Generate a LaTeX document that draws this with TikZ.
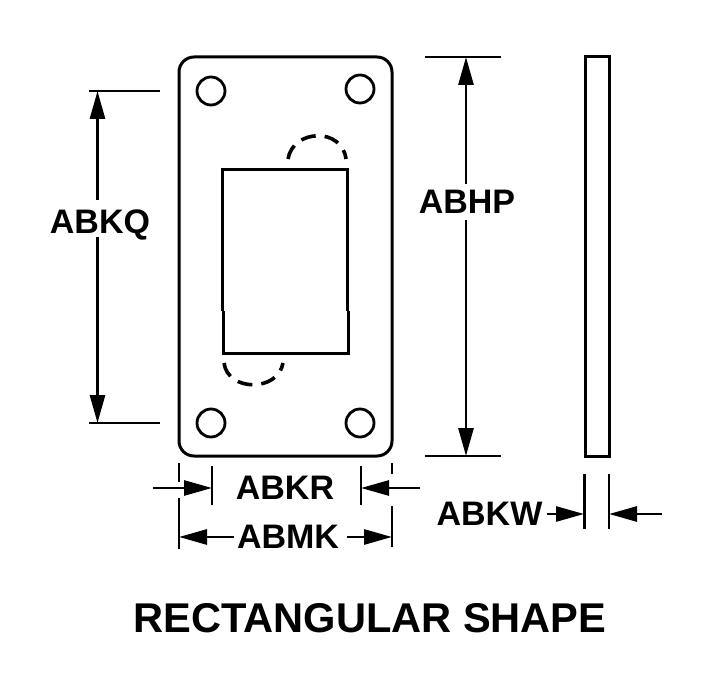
\documentclass[tikz,border=0pt]{standalone}
\usepackage{fontspec}
\setmainfont{Liberation Sans}
\usetikzlibrary{arrows.meta}
\tikzset{
  dim/.style={line width=2.8pt},
  outline/.style={line width=3pt},
  hidden/.style={line width=3.6pt, dash pattern=on 15pt off 9pt},
  label/.style={font=\fontsize{34}{34}\bfseries\selectfont, inner sep=0pt, text depth=0pt},
}
\begin{document}
\begin{tikzpicture}[x=1pt, y=-1pt, >={Stealth[inset=0pt,length=28pt,width=15pt]}, line join=miter]
    \useasboundingbox (0,0) rectangle (720,690);

    % plate and holes
    \draw [outline, rounded corners=15pt] (179,57) rectangle (392,456);
    \foreach \cx/\cy in {211/91, 360/89, 211/423, 360/423}{
        \draw [line width=2.8pt] (\cx,\cy) circle (14);
    }

    % window
    \draw [outline] (222,311) -- (222,169) -- (347,169) -- (347,311);
    \draw [outline] (223,311) -- (223,353) -- (348.5,353) -- (348.5,311);
    \draw [hidden] (288,159) .. controls (293,129) and (342,127) .. (346,159);
    \draw [hidden] (224,363) .. controls (228,392) and (278,392) .. (283,363);

    % side view
    \draw [outline] (585,57) rectangle (609,456);

    % labels
    \node [label] (abkq) at (100,222) {ABKQ};
    \node [label] (abhp) at (467,202) {ABHP};
    \node [label] (abkr) at (285,488) {ABKR};
    \node [label] (abmk) at (288,537) {ABMK};
    \node [label] (abkw) at (489.5,514) {ABKW};
    \node [font=\fontsize{41.6}{42}\bfseries\selectfont, inner sep=0pt] (title) at (370,618) {RECTANGULAR SHAPE};

    % left dimension
    \draw [dim] (89,91) -- (160,91);
    \draw [dim] (89,423) -- (160,423);
    \draw [dim,->] (97.5,200) -- (97.5,91);
    \draw [dim,->] (97.5,237) -- (97.5,423);

    % right dimension
    \draw [dim] (425,57) -- (501,57);
    \draw [dim] (425,456) -- (501,456);
    \draw [dim,->] (466,184) -- (466,57);
    \draw [dim,->] (466,220) -- (466,456);

    % bottom dimensions
    \draw [dim] (179,463) -- (179,482);
    \draw [dim] (179,498) -- (179,549);
    \draw [dim] (392,463) -- (392,474);
    \draw [dim] (392,506) -- (392,547);
    \draw [dim] (212,466) -- (212,505);
    \draw [dim] (361,466) -- (361,505);
    \draw [dim,->] (153,488) -- (212,488);
    \draw [dim,->] (420,488) -- (361,488);
    \draw [dim,->] (abmk.west) ++(-3,0) -- (179,537);
    \draw [dim,->] (abmk.east) ++(8,0) -- (392,537);

    % thickness dimension
    \draw [dim] (584.5,474) -- (584.5,529);
    \draw [dim] (609,474) -- (609,529);
    \draw [dim,->] (abkw.east) ++(4,0) -- (584,514);
    \draw [dim,->] (662,514) -- (609,514);
\end{tikzpicture}
\end{document}
